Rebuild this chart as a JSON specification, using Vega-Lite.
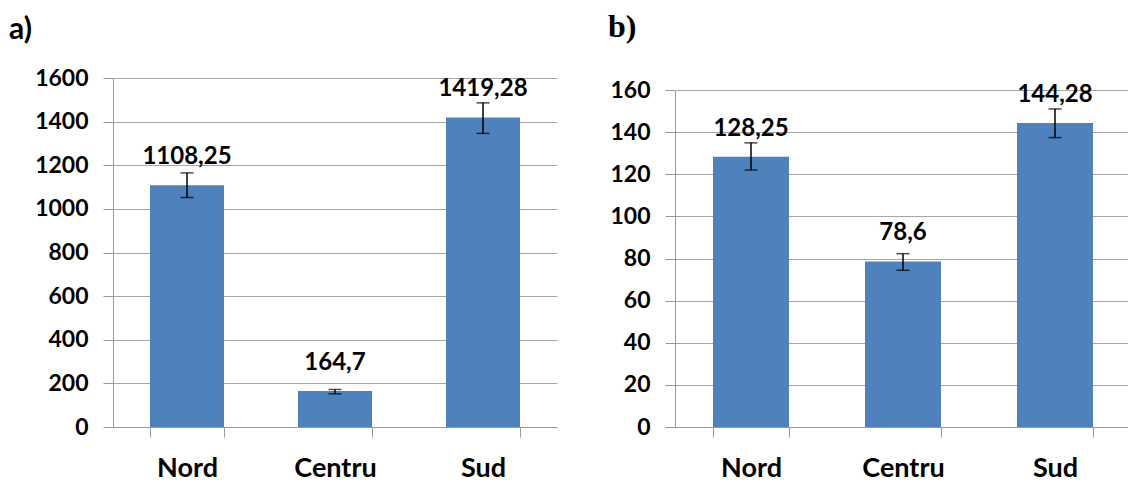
{
  "$schema": "https://vega.github.io/schema/vega-lite/v6.json",
  "padding": {"left": 9, "top": 11, "right": 0, "bottom": 0},
  "background": "white",
  "spacing": 51,
  "config": {
    "view": {"stroke": null},
    "axis": {
      "domainColor": "#9a9a9a",
      "tickColor": "#9a9a9a",
      "gridColor": "#a6a6a6",
      "labelColor": "black",
      "labelFont": "Lato",
      "labelFontWeight": "bold",
      "title": null
    }
  },
  "hconcat": [
    {
      "width": 444,
      "height": 349,
      "title": {"text": "a)", "anchor": "start", "frame": "group", "dx": -104, "offset": 22, "font": "Lato", "fontWeight": "bold", "fontSize": 30, "color": "black"},
      "data": {"values": [
        {"region": "Nord", "value": 1108.25, "lo": 1052, "hi": 1165, "label": "1108,25"},
        {"region": "Centru", "value": 164.7, "lo": 152, "hi": 172, "label": "164,7"},
        {"region": "Sud", "value": 1419.28, "lo": 1346, "hi": 1486, "label": "1419,28"}
      ]},
      "encoding": {
        "x": {"field": "region", "type": "nominal", "sort": null,
          "scale": {"paddingInner": 0.5, "paddingOuter": 0.25},
          "axis": {"labelAngle": 0, "labelFontSize": 27, "tickBand": "extent", "tickSize": 10, "labelPadding": 18, "grid": false}}
      },
      "layer": [
        {
          "mark": {"type": "bar", "color": "#4F81BD"},
          "encoding": {
            "y": {"field": "value", "type": "quantitative",
              "scale": {"domain": [0, 1600], "nice": false},
              "axis": {"values": [0, 200, 400, 600, 800, 1000, 1200, 1400, 1600], "format": "d", "labelFontSize": 23, "tickSize": 10, "labelPadding": 15, "grid": true}}
          }
        },
        {
          "mark": {"type": "rule", "color": "black", "strokeWidth": 1.5},
          "encoding": {"y": {"field": "lo", "type": "quantitative"}, "y2": {"field": "hi"}}
        },
        {
          "mark": {"type": "tick", "color": "black", "size": 13, "thickness": 1.5, "orient": "horizontal"},
          "encoding": {"y": {"field": "lo", "type": "quantitative"}}
        },
        {
          "mark": {"type": "tick", "color": "black", "size": 13, "thickness": 1.5, "orient": "horizontal"},
          "encoding": {"y": {"field": "hi", "type": "quantitative"}}
        },
        {
          "mark": {"type": "text", "font": "Lato", "fontWeight": "bold", "fontSize": 24, "dy": -28, "baseline": "middle", "color": "black"},
          "encoding": {"y": {"field": "value", "type": "quantitative"}, "text": {"field": "label"}}
        }
      ]
    },
    {
      "width": 456,
      "height": 349,
      "title": {"text": "b)", "anchor": "start", "frame": "group", "dx": -67, "offset": 34, "font": "Liberation Serif", "fontWeight": "bold", "fontSize": 32, "color": "black"},
      "data": {"values": [
        {"region": "Nord", "value": 128.25, "lo": 122, "hi": 134.9, "label": "128,25"},
        {"region": "Centru", "value": 78.6, "lo": 74.4, "hi": 82.3, "label": "78,6"},
        {"region": "Sud", "value": 144.28, "lo": 137.4, "hi": 151, "label": "144,28"}
      ]},
      "encoding": {
        "x": {"field": "region", "type": "nominal", "sort": null,
          "scale": {"paddingInner": 0.5, "paddingOuter": 0.25},
          "axis": {"labelAngle": 0, "labelFontSize": 27, "tickBand": "extent", "tickSize": 10, "labelPadding": 18, "grid": false}}
      },
      "layer": [
        {
          "mark": {"type": "bar", "color": "#4F81BD"},
          "encoding": {
            "y": {"field": "value", "type": "quantitative",
              "scale": {"domain": [0, 160], "nice": false, "range": [349, 12]},
              "axis": {"values": [0, 20, 40, 60, 80, 100, 120, 140, 160], "format": "d", "labelFontSize": 23, "tickSize": 10, "labelPadding": 15, "grid": true}}
          }
        },
        {
          "mark": {"type": "rule", "color": "black", "strokeWidth": 1.5},
          "encoding": {"y": {"field": "lo", "type": "quantitative"}, "y2": {"field": "hi"}}
        },
        {
          "mark": {"type": "tick", "color": "black", "size": 13, "thickness": 1.5, "orient": "horizontal"},
          "encoding": {"y": {"field": "lo", "type": "quantitative"}}
        },
        {
          "mark": {"type": "tick", "color": "black", "size": 13, "thickness": 1.5, "orient": "horizontal"},
          "encoding": {"y": {"field": "hi", "type": "quantitative"}}
        },
        {
          "mark": {"type": "text", "font": "Lato", "fontWeight": "bold", "fontSize": 24, "dy": -28, "baseline": "middle", "color": "black"},
          "encoding": {"y": {"field": "value", "type": "quantitative"}, "text": {"field": "label"}}
        }
      ]
    }
  ]
}
